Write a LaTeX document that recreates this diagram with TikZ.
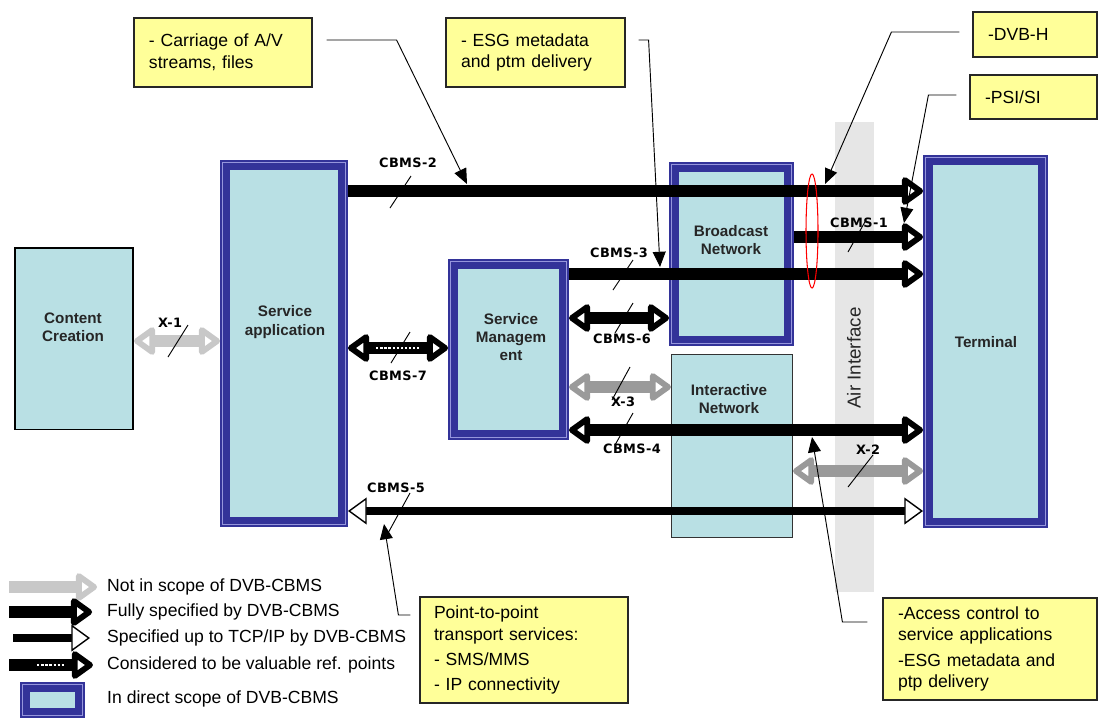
\documentclass[tikz,border=0pt]{standalone}
\usepackage{fontspec}
\setmainfont{Liberation Sans}
\newfontfamily\cbmsfont[LetterSpace=3]{DejaVu Sans}
\usetikzlibrary{arrows.meta}

\definecolor{boxfill}{RGB}{185,224,228}
\definecolor{dvbblue}{RGB}{51,51,153}
\definecolor{bandline}{RGB}{150,150,220}
\definecolor{noteyellow}{RGB}{255,255,153}
\definecolor{airgray}{RGB}{230,230,230}
\definecolor{outgray}{RGB}{200,200,200}
\definecolor{xgray}{RGB}{154,154,154}

\tikzset{
  fulltip/.tip={Triangle[open,round,length=20pt,width=27pt,line width=5.2pt]},
  tcptip/.tip={Triangle[fill=white,length=16pt,width=23pt,line width=1.2pt]},
  iface/.style={draw=black, line width=10.5pt},
  one/.style={iface, -{fulltip}},
  both/.style={iface, {fulltip}-{fulltip}},
  tcp/.style={draw=black, line width=7.5pt, {tcptip}-{tcptip}},
  valref/.style={both, postaction={draw=white, line width=1.2pt, arrows=-,
      dash pattern=on 2pt off 1.5pt, shorten <=24pt, shorten >=24pt}},
  scopebox/.style={draw=dvbblue, fill=boxfill, line width=8.5pt, inner sep=0pt},
  band/.style={draw=bandline, line width=0.8pt},
  plainbox/.style={draw=black, fill=boxfill, line width=1.3pt, inner sep=0pt},
  netbox/.style={draw=black!80, fill=boxfill, line width=0.7pt, inner sep=0pt},
  boxlabel/.style={font=\bfseries\fontsize{13}{15.5}\selectfont, align=center, text=black!85},
  note/.style={draw=black!85, fill=noteyellow, line width=1pt, align=left,
      inner xsep=0.45cm, font=\fontsize{15}{18.5}\selectfont},
  cbms/.style={font=\cbmsfont\bfseries\fontsize{11}{13}\selectfont},
  tick/.style={line width=0.8pt},
  callout/.style={line width=0.8pt, -{Triangle[length=13pt,width=11pt]}},
  legend/.style={anchor=west, inner sep=0pt, font=\fontsize{15}{18}\selectfont}
}

\begin{document}
\begin{tikzpicture}[x=0.03cm, y=-0.03cm]
  \useasboundingbox (0,0) rectangle (1098,718);
  % air interface band
  \fill[airgray] (835,122) rectangle (874,592);
  \node[rotate=90, text=black!85, font=\fontsize{16}{18}\selectfont] (air) at (854,358) {Air Interface};

  % boxes
  \node[plainbox, minimum width=3.555cm, minimum height=5.445cm] (cc) at (74,338.5) {};
  \node[scopebox, minimum width=3.54cm, minimum height=10.71cm] (sa) at (284,343.5) {};
  \node[scopebox, minimum width=3.33cm, minimum height=5.13cm] (sm) at (508.5,349.5) {};
  \node[scopebox, minimum width=3.45cm, minimum height=5.22cm] (bn) at (731.5,254) {};
  \node[netbox, minimum width=3.64cm, minimum height=5.5cm] (in) at (732,446) {};
  \node[scopebox, minimum width=3.45cm, minimum height=10.89cm] (term) at (985.5,341.5) {};
  \node[scopebox, minimum width=1.65cm, minimum height=0.78cm] (key) at (52.5,700) {};
  \foreach \b in {sa,sm,bn,term,key}
    \draw[band] ([shift={(2.1pt,-2.1pt)}]\b.north west) rectangle ([shift={(-2.1pt,2.1pt)}]\b.south east);

  \node[boxlabel] (cctxt) at (73,327) {Content\\Creation};
  \node[boxlabel] (satxt) at (285,322) {Service\\application};
  \node[boxlabel] (smtxt) at (511,337) {Service\\Managem\\ent};
  \node[boxlabel] (bntxt) at (731,240) {Broadcast\\Network};
  \node[boxlabel] (intxt) at (729,399) {Interactive\\Network};
  \node[boxlabel] (termtxt) at (986,342) {Terminal};

  % reference points
  \draw[both, draw=outgray] (cc.east |- 0,341) -- (sa.west |- 0,341);
  \draw[one] (sa.east |- 0,191) -- (term.west |- 0,191);
  \draw[one] (bn.east |- 0,237) -- (term.west |- 0,237);
  \draw[one] (sm.east |- 0,274) -- (term.west |- 0,274);
  \draw[both] (sm.east |- 0,318) -- (bn.west |- 0,318);
  \draw[valref] (sa.east |- 0,348) -- (sm.west |- 0,348);
  \draw[both, draw=xgray] (sm.east |- 0,387) -- (in.west |- 0,387);
  \draw[both] (sm.east |- 0,430) -- (term.west |- 0,430);
  \draw[both, draw=xgray] (in.east |- 0,471) -- (term.west |- 0,471);
  \draw[tcp] (sa.east |- 0,511) -- (term.west |- 0,511);
  \draw[red, line width=0.9pt] (812,231) ellipse [x radius=6, y radius=57];

  % labels and ticks
  \node[cbms] (l2) at (408,163) {CBMS-2};
  \draw[tick] (390,208) -- (411,176);
  \node[cbms] (l1) at (859,223) {CBMS-1};
  \draw[tick] (848,252) -- (866,220);
  \node[cbms] (l3) at (619,253) {CBMS-3};
  \draw[tick] (613,290) -- (633,260);
  \node[cbms] (l6) at (622,339) {CBMS-6};
  \draw[tick] (615,333) -- (633,303);
  \node[cbms] (l7) at (398,376) {CBMS-7};
  \draw[tick] (391,363) -- (410,332);
  \node[cbms] (lx1) at (170,323) {X-1};
  \draw[tick] (168,357) -- (188,325);
  \node[cbms] (lx3) at (623,402) {X-3};
  \draw[tick] (612,400) -- (630,367);
  \node[cbms] (l4) at (632,449) {CBMS-4};
  \draw[tick] (615,445) -- (633,413);
  \node[cbms] (lx2) at (868,450) {X-2};
  \draw[tick] (848,487) -- (873,455);
  \node[cbms] (l5) at (396,488) {CBMS-5};
  \draw[tick] (387,535) -- (410,493);

  % notes
  \node[note, text width=4.44cm, minimum height=2.07cm] (carr) at (223,52.5) {- Carriage of A/V\\streams, files};
  \node[note, text width=4.47cm, minimum height=2.07cm] (esg) at (535.5,52.5) {- ESG metadata\\and ptm delivery};
  \node[note, text width=2.82cm, minimum height=1.35cm] (dvbh) at (1035,34.5) {-DVB-H};
  \node[note, text width=2.91cm, minimum height=1.32cm] (psi) at (1033.5,97) {-PSI/SI};
  \node[note, text width=5.4cm, inner xsep=0.42cm, minimum height=3.18cm] (ptp) at (524,650)
    {Point-to-point\\transport services:\\[3pt]- SMS/MMS\\[3pt]- IP connectivity};
  \node[note, text width=5.52cm, minimum height=3.06cm] (acc) at (990,649)
    {-Access control to\\service applications\\[3pt]-ESG metadata and\\ptp delivery};

  \coordinate (p2) at (467,184);
  \coordinate (p3) at (660,267);
  \coordinate (ph) at (825,184);
  \coordinate (ps) at (904,223);
  \coordinate (p5) at (384,524);
  \coordinate (p4) at (812,437);
  \draw[callout] ([shift={(14,-12.5)}]carr.east) -- ++(70,0) -- (p2);
  \draw[callout] ([shift={(13,-12.5)}]esg.east) -- ++(10,0) -- (p3);
  \draw[callout] ([shift={(-13,-2.5)}]dvbh.west) -- ++(-68,0) -- (ph);
  \draw[callout] ([shift={(-13,-2)}]psi.west) -- ++(-28,0) -- (ps);
  \draw[callout] ([shift={(-9,-35)}]ptp.west) -- ++(-12,0) -- (p5);
  \draw[callout] ([shift={(-15,-27)}]acc.west) -- ++(-25,0) -- (p4);

  % legend
  \node[legend] (k1) at (107,587) {Not in scope of DVB-CBMS};
  \node[legend] (k2) at (107,612) {Fully specified by DVB-CBMS};
  \node[legend] (k3) at (107,638) {Specified up to TCP/IP by DVB-CBMS};
  \node[legend] (k4) at (107,665) {Considered to be valuable ref. points};
  \node[legend] (k5) at (107,699) {In direct scope of DVB-CBMS};
  \coordinate (k1a) at (9,587);
  \coordinate (k2a) at (9,612);
  \coordinate (k3a) at (13,638);
  \coordinate (k4a) at (9,665);
  \draw[one, draw=outgray] (k1a) -- ([xshift=-8.5pt]k1.west);
  \draw[one] (k2a) -- ([xshift=-12.7pt]k2.west);
  \draw[draw=black, line width=7.5pt, -{tcptip}] (k3a) -- ([xshift=-14.5pt]k3.west);
  \draw[valref, arrows=-{fulltip}] (k4a) -- ([xshift=-12pt]k4.west);
\end{tikzpicture}
\end{document}
